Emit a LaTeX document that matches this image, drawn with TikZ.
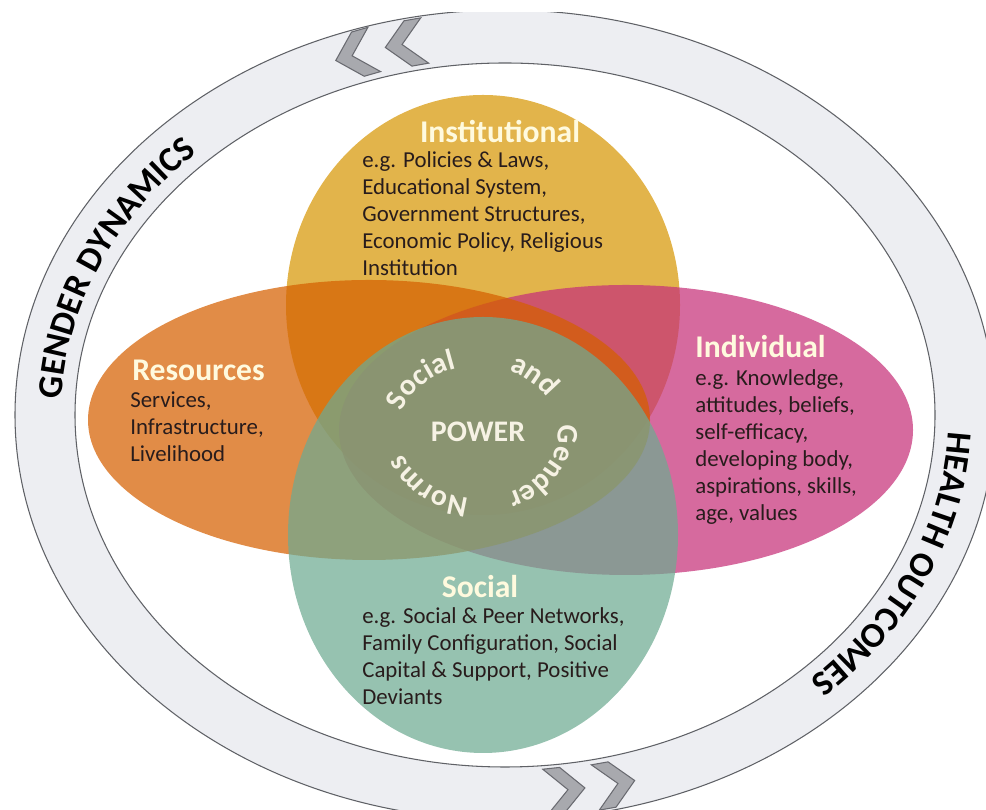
\documentclass[tikz,border=0pt]{standalone}
\usepackage{fontspec}
\setmainfont{Carlito}
\usetikzlibrary{decorations.text}

\definecolor{ringfill}{RGB}{237,238,242}
\definecolor{ringline}{RGB}{95,97,102}
\definecolor{chevfill}{RGB}{168,169,174}
\definecolor{chevline}{RGB}{105,106,112}
\definecolor{instcol}{RGB}{215,151,5}
\definecolor{rescol}{RGB}{213,95,0}
\definecolor{indcol}{RGB}{198,48,120}
\definecolor{soccol}{RGB}{110,170,145}
\definecolor{titlecol}{RGB}{255,250,222}
\definecolor{powercol}{RGB}{246,242,228}
\definecolor{bodycol}{RGB}{40,28,28}

\newcommand\ringfont{\fontsize{20}{24}\selectfont\bfseries}
\newcommand\normsfont{\fontsize{17}{20}\selectfont\bfseries}

\begin{document}
\begin{tikzpicture}[x=0.02cm, y=0.02cm,
    setfill/.style={fill opacity=0.72},
    titletext/.style={text=titlecol, font=\fontsize{18}{21}\selectfont\bfseries, inner sep=0pt},
    bodytext/.style={text=bodycol, font=\fontsize{13}{15.4}\selectfont, align=left, inner sep=0pt, anchor=north west},
    ringband/.style={fill=ringfill, draw=ringline, line width=0.6pt, even odd rule},
    chevron/.style={fill=chevfill, draw=chevline, line width=0.6pt},
    chev/.pic={\filldraw[chevron] (-20,23) -- (-3,23) -- (20,0) -- (-3,-23) -- (-20,-23) -- (3,0) -- cycle;}]
        \useasboundingbox (0,0) rectangle (986,810);

        % outer ring with the arrows
        \begin{scope}
            \clip (0,0) rectangle (986,797);
            \filldraw[ringband] (505,395) ellipse [x radius=490, y radius=405]
                (505,395) ellipse [x radius=430, y radius=352];
            \pic[rotate=196] at (355,755) {chev};
            \pic[rotate=190] at (405,766) {chev};
            \pic[rotate=6] at (565,20) {chev};
            \pic[rotate=10] at (615,26) {chev};
        \end{scope}

        \path[decorate, decoration={text along path, text={|\ringfont|GENDER DYNAMICS}, text align=center}]
            (505,395) ++(198:444 and 364) arc[start angle=198, end angle=116, x radius=444, y radius=364];
        \path[decorate, decoration={text along path, text={|\ringfont|HEALTH OUTCOMES}, text align=center}]
            (505,395) ++(23:444 and 364) arc[start angle=23, end angle=-69, x radius=444, y radius=364];

        % the four fields
        \fill[setfill, instcol] (483,505) ellipse [x radius=197, y radius=210];
        \fill[setfill, indcol] (626,380) ellipse [x radius=287, y radius=145];
        \fill[setfill, rescol] (369,390) ellipse [x radius=281, y radius=140];
        \fill[setfill, soccol] (483,275) ellipse [x radius=195, y radius=218];

        \node[titletext] (insttitle) at (500,678) {Institutional};
        \node[bodytext] (instbody) at (362,659) {e.g. Policies \& Laws,\\Educational System,\\Government Structures,\\Economic Policy, Religious\\Institution};

        \node[titletext, anchor=west] (restitle) at (132,440) {Resources};
        \node[bodytext] (resbody) at (130,419) {Services,\\Infrastructure,\\Livelihood};

        \node[titletext, anchor=west] (indtitle) at (695,463) {Individual};
        \node[bodytext] (indbody) at (695,441) {e.g. Knowledge,\\attitudes, beliefs,\\self-efficacy,\\developing body,\\aspirations, skills,\\age, values};

        \node[titletext] (soctitle) at (480,223) {Social};
        \node[bodytext] (socbody) at (362,203) {e.g. Social \& Peer Networks,\\Family Configuration, Social\\Capital \& Support, Positive\\Deviants};

        % centre
        \node[text=powercol, font=\normsfont, inner sep=0pt] (power) at (478,378) {POWER};
        \path[decorate, decoration={text along path, text={|\normsfont|Social}, text align=center, text color=powercol}]
            (478,378) ++(175:80 and 66) arc[start angle=175, end angle=95, x radius=80, y radius=66];
        \path[decorate, decoration={text along path, text={|\normsfont|and}, text align=center, text color=powercol}]
            (478,378) ++(75:80 and 66) arc[start angle=75, end angle=22, x radius=80, y radius=66];
        \path[decorate, decoration={text along path, text={|\normsfont|Gender}, text align=center, text color=powercol}]
            (478,378) ++(7:80 and 66) arc[start angle=7, end angle=-69, x radius=80, y radius=66];
        \path[decorate, decoration={text along path, text={|\normsfont|Norms}, text align=center, text color=powercol}]
            (478,378) ++(-90:80 and 66) arc[start angle=-90, end angle=-168, x radius=80, y radius=66];
    \end{tikzpicture}
\end{document}
